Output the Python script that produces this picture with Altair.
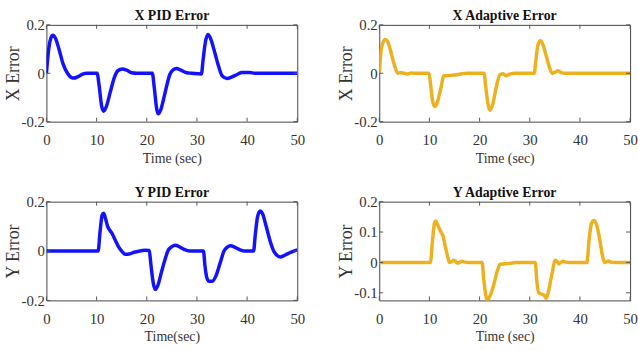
import altair as alt
import pandas as pd

FONT = "Liberation Serif"
BLUE = "#1212ff"
ORANGE = "#EDB120"
TICKC = "#555555"

# ---- data ----
x_pid_t = [0, 0.4, 0.8, 1.3, 1.8, 2.5, 3.3, 4.2, 5.0, 5.5, 6.3, 7.2, 8.0, 10.1, 10.5, 11.0, 11.4, 11.9, 12.7,
           13.5, 14.2, 15.1, 16.0, 17.0, 18.0, 21.1, 21.5, 22.0, 22.3, 22.8, 23.6, 24.6, 25.3, 25.9, 26.8,
           28.0, 29.0, 30.9, 31.2, 31.7, 32.2, 32.7, 33.5, 34.3, 35.0, 36.0, 37.0, 38.0, 39.0, 40.5, 41.5, 50]
x_pid_v = [0, 0.09, 0.14, 0.157, 0.145, 0.1, 0.04, 0.0, -0.018, -0.02, -0.014, -0.004, 0.0, 0.0, -0.05, -0.135,
           -0.157, -0.14, -0.08, -0.02, 0.01, 0.018, 0.013, 0.002, 0.0, 0.0, -0.06, -0.15, -0.167, -0.15, -0.085,
           -0.005, 0.015, 0.02, 0.013, 0.002, 0.0, -0.003, 0.05, 0.13, 0.16, 0.145, 0.09, 0.03, -0.01, -0.022,
           -0.015, -0.005, 0.003, 0.003, 0.0, 0.0]

x_ad_t = [0, 0.3, 0.7, 1.2, 1.7, 2.3, 3.0, 3.7, 4.3, 5.0, 5.6, 6.3, 7.0, 9.9, 10.2, 10.6, 11.05, 11.5, 12.2,
          12.9, 13.5, 14.5, 15.5, 16.5, 17.5, 20.9, 21.2, 21.7, 22.1, 22.6, 23.3, 24.1, 24.7, 25.2, 26.0, 27.0,
          30.9, 31.2, 31.6, 32.1, 32.6, 33.3, 34.0, 34.5, 35.0, 35.6, 36.3, 37.0, 50]
x_ad_v = [0, 0.08, 0.125, 0.14, 0.13, 0.09, 0.035, 0.0, 0.003, 0.0, -0.003, 0.001, 0.0, 0.0, -0.04, -0.11,
          -0.137, -0.125, -0.07, -0.01, -0.01, -0.008, -0.006, -0.002, 0.0, 0.0, -0.05, -0.13, -0.153, -0.13,
          -0.06, -0.005, -0.002, -0.01, -0.004, 0.0, 0.0, 0.05, 0.115, 0.134, 0.12, 0.07, 0.02, 0.0, 0.004,
          0.01, 0.003, 0.0, 0.0]

y_pid_t = [0, 10.3, 10.7, 11.1, 11.4, 11.8, 12.2, 12.7, 13.1, 13.7, 14.3, 15.0, 15.7, 16.5, 17.5, 18.6, 19.5,
           20.5, 20.8, 21.3, 21.7, 22.2, 23.0, 23.7, 24.2, 25.0, 25.7, 26.6, 27.5, 28.5, 31.3, 31.6, 32.0, 32.4,
           33.1, 33.8, 34.6, 35.4, 36.0, 36.7, 37.6, 38.5, 39.3, 41.3, 41.6, 42.1, 42.6, 43.1, 43.8, 44.6, 45.3,
           46.0, 46.6, 47.5, 48.5, 49.3, 50]
y_pid_v = [0, 0, 0.08, 0.145, 0.153, 0.13, 0.1, 0.082, 0.07, 0.045, 0.02, 0.0, -0.013, -0.012, -0.005, 0.0,
           0.003, 0.002, -0.05, -0.13, -0.156, -0.14, -0.08, -0.03, 0.0, 0.018, 0.023, 0.016, 0.006, 0.0, 0.0,
           -0.06, -0.11, -0.122, -0.122, -0.1, -0.05, 0.0, 0.015, 0.021, 0.015, 0.006, 0.0, 0.0, 0.06, 0.14,
           0.162, 0.15, 0.1, 0.04, 0.0, -0.018, -0.024, -0.017, -0.007, 0.0, 0.005]

y_ad_t = [0, 10.2, 10.6, 11.0, 11.25, 11.6, 11.9, 12.3, 12.7, 13.2, 13.7, 14.0, 14.4, 14.8, 15.2, 15.6, 16.0,
          16.5, 17.0, 18.0, 20.5, 20.8, 21.2, 21.6, 22.2, 22.8, 23.5, 24.1, 24.8, 25.5, 26.5, 27.5, 31.1, 31.4,
          31.8, 32.3, 32.8, 33.3, 33.8, 34.4, 35.1, 35.5, 35.8, 36.2, 36.6, 37.2, 38.0, 41.4, 41.8, 42.3, 42.8,
          43.3, 43.9, 44.4, 44.9, 45.3, 45.7, 46.2, 47.0, 50]
y_ad_v = [0, 0, 0.07, 0.128, 0.136, 0.125, 0.114, 0.1, 0.088, 0.05, 0.015, 0.0, 0.002, 0.007, 0.004, -0.002,
          0.0, 0.004, 0.001, 0.0, 0.0, -0.05, -0.105, -0.124, -0.105, -0.075, -0.03, -0.006, -0.005, -0.004,
          -0.002, 0.0, 0.0, -0.06, -0.1, -0.104, -0.107, -0.118, -0.09, -0.04, 0.007, 0.002, -0.005, 0.0, 0.004,
          0.001, 0.0, 0.0, 0.07, 0.128, 0.138, 0.125, 0.08, 0.03, 0.0, 0.002, 0.005, 0.001, 0.0, 0.0]

x_ticks = [0, 10, 20, 30, 40, 50]
y_ticks_main = [-0.2, 0, 0.2]
y_ticks_yad = [-0.1, 0, 0.1, 0.2]
y_dom_main = [-0.2, 0.2]
y_dom_yad = [-0.125, 0.2]

W = 254
H_TOP = 98
H_BOT = 100
TL = 4

YLAB = "datum.value == 0 ? '0' : (datum.value < 0 ? '-' : '') + format(abs(datum.value), '.1f')"


def panel(t, v, color, title, xtitle, ytitle, ydomain, yticks, h):
    df = pd.DataFrame({"t": t, "v": v})
    xs = alt.Scale(domain=[0, 50], nice=False, zero=False)
    ys = alt.Scale(domain=ydomain, nice=False, zero=False)
    xax = alt.Axis(values=x_ticks, title=xtitle, labelFlush=False, labelPadding=11, titlePadding=4)
    yax = alt.Axis(values=yticks, title=ytitle, labelExpr=YLAB, labelPadding=2, titlePadding=1,
                   minExtent=23, maxExtent=23, titleFontSize=18)
    line = alt.Chart(df).mark_line(color=color, strokeWidth=3.5, interpolate="monotone", clip=True).encode(
        x=alt.X("t:Q", scale=xs, axis=xax, title=xtitle),
        y=alt.Y("v:Q", scale=ys, axis=yax, title=ytitle),
    )
    xt = pd.DataFrame({"t": x_ticks})
    yt = pd.DataFrame({"v": yticks})
    bot = alt.Chart(xt).mark_rule(color=TICKC, strokeWidth=1).encode(
        x=alt.X("t:Q", scale=xs, axis=xax, title=xtitle), y=alt.value(h), y2=alt.value(h - TL))
    top = alt.Chart(xt).mark_rule(color=TICKC, strokeWidth=1).encode(
        x=alt.X("t:Q", scale=xs, axis=xax, title=xtitle), y=alt.value(0), y2=alt.value(TL))
    left = alt.Chart(yt).mark_rule(color=TICKC, strokeWidth=1).encode(
        y=alt.Y("v:Q", scale=ys, axis=yax, title=ytitle), x=alt.value(0), x2=alt.value(TL))
    right = alt.Chart(yt).mark_rule(color=TICKC, strokeWidth=1).encode(
        y=alt.Y("v:Q", scale=ys, axis=yax, title=ytitle), x=alt.value(W - TL), x2=alt.value(W))
    return alt.layer(line, bot, top, left, right).properties(
        width=W, height=h,
        title=alt.TitleParams(title, font=FONT, fontSize=14, fontWeight="bold", color="#111111",
                              offset=-5, frame="group", anchor="middle"),
    )


p1 = panel(x_pid_t, x_pid_v, BLUE, "X PID Error", "Time (sec)", "X Error", y_dom_main, y_ticks_main, H_TOP)
p2 = panel(x_ad_t, x_ad_v, ORANGE, "X Adaptive Error", "Time (sec)", "X Error", y_dom_main, y_ticks_main, H_TOP)
p3 = panel(y_pid_t, y_pid_v, BLUE, "Y PID Error", "Time(sec)", "Y Error", y_dom_main, y_ticks_main, H_BOT)
p4 = panel(y_ad_t, y_ad_v, ORANGE, "Y Adaptive Error", "Time (sec)", "Y Error", y_dom_yad, y_ticks_yad, H_BOT)

chart = alt.vconcat(
    alt.hconcat(p1, p2, spacing=32),
    alt.hconcat(p3, p4, spacing=32),
    spacing=19,
).properties(
    padding={"left": 4, "top": 6, "right": 0, "bottom": 0},
    background="white",
).configure_view(
    stroke="#444444", strokeWidth=1,
).configure_axis(
    labelFont=FONT, labelFontSize=15, labelColor="#333333",
    titleFont=FONT, titleFontSize=14, titleFontWeight="normal", titleColor="#333333",
    domain=False, ticks=False, tickSize=0, grid=False,
)

chart.save("out.html", embed_options={"renderer": "svg", "actions": False})
